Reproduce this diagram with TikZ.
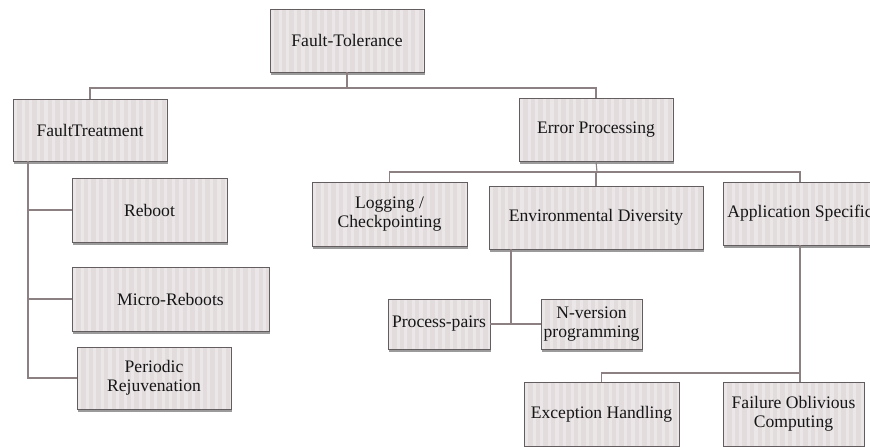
\documentclass[tikz,border=0pt]{standalone}
\usepackage{fontspec}
\setmainfont{Liberation Serif}
\usetikzlibrary{shadows}
\definecolor{boxfill}{HTML}{E2DCDD}
\definecolor{boxstripe}{HTML}{EBE7E8}
\definecolor{boxline}{HTML}{645D5F}
\definecolor{wire}{HTML}{8C8083}
\definecolor{ink}{HTML}{161616}
\tikzset{
  tbox/.style={draw=boxline, line width=0.9pt, fill=boxfill, inner sep=0pt,
    align=center, text=ink, font=\fontsize{17.6}{19.5}\selectfont,
    drop shadow={shadow xshift=0.8pt, shadow yshift=-2.8pt, fill=black!65, opacity=0.6},
    path picture={
      \foreach \i in {0,...,30}{
        \fill[boxstripe] ([xshift=\i*7.6pt+1pt]path picture bounding box.south west)
          rectangle ([xshift=\i*7.6pt+4.2pt]path picture bounding box.north west);
      }
    }},
  wire/.style={draw=wire, line width=1.1pt}
}
\begin{document}
\begin{tikzpicture}[x=1pt, y=-1pt]
\useasboundingbox (0,0) rectangle (870,447);

% boxes
\node[tbox, minimum width=154pt, minimum height=63pt] (ft)  at (347,40.5)  {Fault-Tolerance};
\node[tbox, minimum width=154pt, minimum height=62pt] (ftr) at (90,130)    {Fault\kern-1pt Treatment};
\node[tbox, minimum width=154pt, minimum height=63pt] (ep)  at (596,129.5) {Error Processing};
\node[tbox, minimum width=155pt, minimum height=64pt] (rb)  at (149.5,210) {Reboot};
\node[tbox, minimum width=197pt, minimum height=64pt] (mr)  at (170.5,299) {Micro-Reboots};
\node[tbox, minimum width=154pt, minimum height=62pt] (pr)  at (154,378)   {Periodic\\Rejuvenation};
\node[tbox, minimum width=155pt, minimum height=64pt] (lc)  at (389.5,214) {Logging /\\Checkpointing};
\node[tbox, minimum width=214pt, minimum height=63pt] (ed)  at (596,217.5) {Environmental Diversity};
\node[tbox, minimum width=154pt, minimum height=63pt] (as)  at (800,213.5) {Application Specific};
\node[tbox, minimum width=102pt, minimum height=50pt] (pp)  at (439,324)   {Process-pairs};
\node[tbox, minimum width=101pt, minimum height=50pt] (nv)  at (591.5,324) {N-version\\programming};
\node[tbox, minimum width=155pt, minimum height=64pt] (eh)  at (601.5,414) {Exception Handling};
\node[tbox, minimum width=141pt, minimum height=64pt] (foc) at (793.5,414) {Failure Oblivious\\Computing};

% junction points
\coordinate (j1) at (347,88);
\coordinate (j2) at (597,172);
\coordinate (j3) at (800,373);
\coordinate (trunk) at (28,161);
\coordinate (edb) at (511,249);

% top level
\draw[wire] (ft.south) -- (j1);
\draw[wire] (ftr.north) |- (j1) -| (ep.north);

% fault treatment branches
\draw[wire] (trunk) |- (pr.west);
\draw[wire] (trunk |- rb.west) -- (rb.west);
\draw[wire] (trunk |- mr.west) -- (mr.west);

% error processing branches
\draw[wire] (ep.south) -- (j2);
\draw[wire] (lc.north) |- (j2) -| (as.north);
\draw[wire] (ed.north) -- (ed.north |- j2);

% environmental diversity
\draw[wire] (edb) -- (edb |- pp.east);
\draw[wire] (pp.east) -- (nv.west);

% application specific
\draw[wire] (as.south) -- (j3);
\draw[wire] (eh.north) |- (j3) -- (j3 |- foc.north);
\end{tikzpicture}
\end{document}
